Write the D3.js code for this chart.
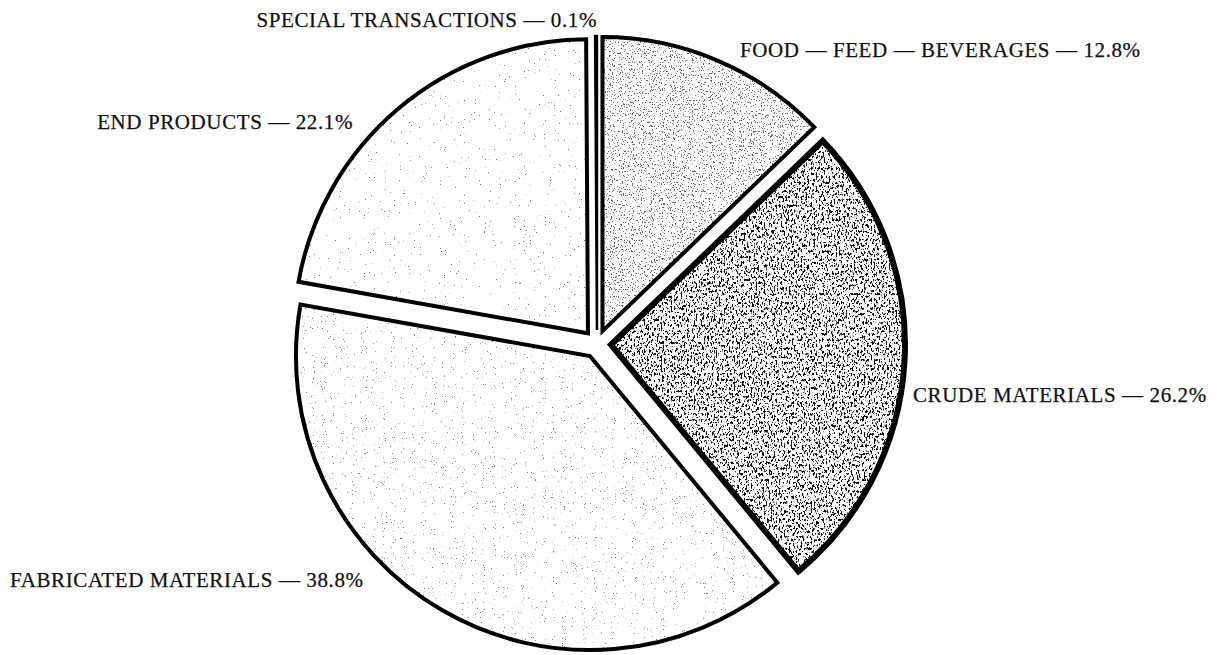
<!DOCTYPE html>
<html>
<head>
<meta charset="utf-8">
<title>Exports by end-use category</title>
<style>
  html, body { margin: 0; background: #fff; }
  svg { display: block; }
  .lbl { font-family: "Liberation Serif", "DejaVu Serif", serif; font-size: 21px; letter-spacing: 0.6px; fill: #111; stroke: #111; stroke-width: 0.25px; }
</style>
<script src="https://cdnjs.cloudflare.com/ajax/libs/d3/7.8.5/d3.min.js"></script>
</head>
<body>
<div id="chart"></div>
<script>
// data, clockwise from 12 o'clock
var categories = ["FOOD \u2014 FEED \u2014 BEVERAGES", "CRUDE MATERIALS", "FABRICATED MATERIALS", "END PRODUCTS", "SPECIAL TRANSACTIONS"];
var shares = [12.8, 26.2, 38.8, 22.1, 0.1];

// layout
var W = 1224, H = 655;
var cx = 597, cy = 344, R = 294, explode = 14;

// label placement: [x, baseline y, anchor]
var labelPos = [
    [740, 57, "start"],
    [913, 402, "start"],
    [10, 587, "start"],
    [353, 129, "end"],
    [597, 27, "end"]
];

// texture settings per slice: noise freq, alpha = k*noise + b, dot grey, stroke width
var textures = [
    {freq: "0.9 0.55", k: -22, b: 8.3, grey: 0.42, sw: 4},
    {freq: "0.6 0.35", k: -16, b: 7.1, grey: 0.05, sw: 6},
    {freq: "1.1 0.8", k: -22, b: 5.9, grey: 0.5, sw: 4},
    {freq: "1.2 1.0", k: -22, b: 5.2, grey: 0.45, sw: 4},
    {freq: "1 1", k: 0, b: 0, grey: 0, sw: 2.5}
];

var data = categories.map(function(c, i){ return {name: c, value: shares[i]}; });

var svg = d3.select('#chart').append('svg')
    .attr('width', W)
    .attr('height', H)
    .style('background', '#fff');

var defs = svg.append('defs');

textures.forEach(function(t, i){
    var f = defs.append('filter')
        .attr('id', 'tex' + i)
        .attr('filterUnits', 'userSpaceOnUse')
        .attr('x', -W).attr('y', -H).attr('width', 2 * W).attr('height', 2 * H)
        .attr('color-interpolation-filters', 'sRGB');
    f.append('feTurbulence')
        .attr('type', 'fractalNoise')
        .attr('baseFrequency', t.freq)
        .attr('numOctaves', 3)
        .attr('seed', 7 + i)
        .attr('result', 'n');
    var g = t.grey;
    f.append('feColorMatrix')
        .attr('in', 'n')
        .attr('type', 'matrix')
        .attr('values', [0,0,0,0,g, 0,0,0,0,g, 0,0,0,0,g, t.k,0,0,0,t.b].join(' '))
        .attr('result', 'dots');
    f.append('feComposite')
        .attr('in', 'dots')
        .attr('in2', 'SourceAlpha')
        .attr('operator', 'in')
        .attr('result', 'clipped');
    var m = f.append('feMerge');
    m.append('feMergeNode').attr('in', 'SourceGraphic');
    m.append('feMergeNode').attr('in', 'clipped');
});

var pie = d3.pie()
    .value(function(d){ return d.value; })
    .sort(null)
    .startAngle(0)
    .endAngle(2 * Math.PI);

var arc = d3.arc()
    .innerRadius(0)
    .outerRadius(R);

var arcs = pie(data);

var slices = svg.append('g')
    .attr('transform', 'translate(' + cx + ',' + cy + ')')
    .selectAll('g.slice')
    .data(arcs)
    .enter()
    .append('g')
    .attr('class', 'slice')
    .attr('transform', function(d){
        var a = (d.startAngle + d.endAngle) / 2;
        return 'translate(' + (Math.sin(a) * explode) + ',' + (-Math.cos(a) * explode) + ')';
    });

//textured fill
slices.append('path')
    .attr('d', arc)
    .attr('fill', '#fff')
    .attr('filter', function(d, i){ return i < 4 ? 'url(#tex' + i + ')' : null; });

//outline
slices.append('path')
    .attr('d', arc)
    .attr('fill', 'none')
    .attr('stroke', '#000')
    .attr('stroke-linejoin', 'miter')
    .attr('stroke-width', function(d, i){ return textures[i].sw; });

//labels
svg.append('g')
    .selectAll('text')
    .data(data)
    .enter()
    .append('text')
    .attr('class', 'lbl')
    .attr('x', function(d, i){ return labelPos[i][0]; })
    .attr('y', function(d, i){ return labelPos[i][1]; })
    .attr('text-anchor', function(d, i){ return labelPos[i][2]; })
    .text(function(d){ return d.name + ' \u2014 ' + d.value.toFixed(1) + '%'; });
</script>
</body>
</html>
